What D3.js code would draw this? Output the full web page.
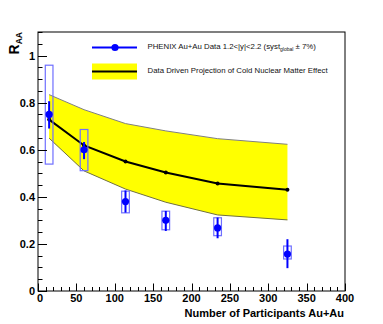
<!DOCTYPE html>
<html><head><meta charset="utf-8">
<script src="https://cdn.jsdelivr.net/npm/d3@7"></script>
<style>body{margin:0;background:#fff}svg{display:block}text{font-family:"Liberation Sans",Arial,sans-serif}</style>
</head><body><svg id="c" width="383" height="324"></svg>
<script>
// Data (Npart, RAA)
const npart = [14.5, 60, 114, 166.5, 234, 325];
const raa = [0.75, 0.60, 0.38, 0.30, 0.268, 0.157];
const statHi = [0.806, 0.633, 0.427, 0.340, 0.312, 0.220];
const statLo = [0.690, 0.560, 0.333, 0.255, 0.224, 0.097];
const systHi = [0.959, 0.686, 0.424, 0.339, 0.311, 0.191];
const systLo = [0.539, 0.511, 0.332, 0.260, 0.235, 0.136];
// Cold nuclear matter projection
const cnmCenter = [0.728, 0.618, 0.550, 0.503, 0.457, 0.430];
const cnmUpper = [0.834, 0.770, 0.711, 0.680, 0.647, 0.623];
const cnmLower = [0.649, 0.510, 0.433, 0.377, 0.323, 0.302];
const xTicks = [0, 50, 100, 150, 200, 250, 300, 350, 400];
const yTicks = [0, 0.2, 0.4, 0.6, 0.8, 1];
const yTickLabels = ["0", "0.2", "0.4", "0.6", "0.8", "1"];
const legendLabels = ["PHENIX Au+Au Data 1.2<|y|<2.2 (syst", "global", " \u00b1 7%)", "Data Driven Projection of Cold Nuclear Matter Effect"];
const xTitle = "Number of Participants Au+Au";

const L = 38, R = 345, T = 32, B = 291;
const svg = d3.select("#c");
const x = d3.scaleLinear().domain([0, 400]).range([L, R]);
const y = d3.scaleLinear().domain([0, 1.1]).range([B, T]);

// band
const bandPts = npart.map((d, i) => ({x: d, hi: cnmUpper[i], lo: cnmLower[i], c: cnmCenter[i]}));
svg.append("path").datum(bandPts)
  .attr("d", d3.area().x(d => x(d.x)).y0(d => y(d.lo)).y1(d => y(d.hi)))
  .attr("fill", "#ffff00");
svg.append("path").datum(bandPts).attr("d", d3.line().x(d => x(d.x)).y(d => y(d.hi)))
  .attr("fill", "none").attr("stroke", "#808080").attr("stroke-width", 1);
svg.append("path").datum(bandPts).attr("d", d3.line().x(d => x(d.x)).y(d => y(d.lo)))
  .attr("fill", "none").attr("stroke", "#707040").attr("stroke-width", 1);
svg.append("path").datum(bandPts).attr("d", d3.line().x(d => x(d.x)).y(d => y(d.c)))
  .attr("fill", "none").attr("stroke", "#000").attr("stroke-width", 2);
svg.selectAll(".cdot").data(bandPts).join("circle")
  .attr("cx", d => x(d.x)).attr("cy", d => y(d.c)).attr("r", 2).attr("fill", "#000");

// data
const pts = npart.map((d, i) => ({x: d, y: raa[i], sh: statHi[i], sl: statLo[i], yh: systHi[i], yl: systLo[i]}));
svg.selectAll(".sys").data(pts).join("rect")
  .attr("x", d => x(d.x - 5)).attr("width", d => x(d.x + 5) - x(d.x - 5))
  .attr("y", d => y(d.yh)).attr("height", d => y(d.yl) - y(d.yh))
  .attr("fill", "none").attr("stroke", "#6f6fff").attr("stroke-width", 1.2);
svg.selectAll(".err").data(pts).join("line")
  .attr("x1", d => x(d.x)).attr("x2", d => x(d.x))
  .attr("y1", d => y(d.sh)).attr("y2", d => y(d.sl))
  .attr("stroke", "#0000ff").attr("stroke-width", 2);
svg.selectAll(".pt").data(pts).join("circle")
  .attr("cx", d => x(d.x)).attr("cy", d => y(d.y)).attr("r", 3.6).attr("fill", "#0000ff");

// frame
svg.append("rect").attr("x", L).attr("y", T).attr("width", R - L).attr("height", B - T)
  .attr("fill", "none").attr("stroke", "#000").attr("stroke-width", 1);

// y axis ticks
const yMinor = d3.range(0, 1.1001, 0.05);
svg.selectAll(".ymin").data(yMinor).join("line")
  .attr("x1", L).attr("x2", L + 4.5).attr("y1", d => Math.round(y(d)) + 0.5).attr("y2", d => Math.round(y(d)) + 0.5)
  .attr("stroke", "#000");
svg.selectAll(".ymaj").data(yTicks).join("line")
  .attr("x1", L).attr("x2", L + 9).attr("y1", d => Math.round(y(d)) + 0.5).attr("y2", d => Math.round(y(d)) + 0.5)
  .attr("stroke", "#000");
svg.selectAll(".ylab").data(yTicks).join("text")
  .attr("x", 35).attr("y", d => y(d) + 4).attr("text-anchor", "end")
  .attr("font-size", 11).attr("font-weight", "bold").text((d, i) => yTickLabels[i]);

// x axis ticks
const xMinor = d3.range(0, 401, 10);
svg.selectAll(".xmin").data(xMinor).join("line")
  .attr("x1", d => Math.round(x(d)) + 0.5).attr("x2", d => Math.round(x(d)) + 0.5).attr("y1", B).attr("y2", B - 4)
  .attr("stroke", "#000");
svg.selectAll(".xmaj").data(xTicks).join("line")
  .attr("x1", d => Math.round(x(d)) + 0.5).attr("x2", d => Math.round(x(d)) + 0.5).attr("y1", B).attr("y2", B - 7.5)
  .attr("stroke", "#000");
svg.selectAll(".xlab").data(xTicks).join("text")
  .attr("x", d => x(d) + (d === 0 ? 2 : 0)).attr("y", 302).attr("text-anchor", "middle")
  .attr("font-size", 11).attr("font-weight", "bold").text(d => d);

// titles
svg.append("text").attr("x", 344).attr("y", 317).attr("text-anchor", "end")
  .attr("font-size", 11).attr("font-weight", "bold").text(xTitle);
const yt = svg.append("text").attr("transform", "translate(19,32) rotate(-90)").attr("text-anchor", "end")
  .attr("font-size", 14).attr("font-weight", "bold");
yt.append("tspan").text("R");
yt.append("tspan").attr("font-size", 8.5).attr("dy", 3).text("AA");

// legend
const lg = svg.append("g");
lg.append("line").attr("x1", 92).attr("x2", 137).attr("y1", 47.5).attr("y2", 47.5).attr("stroke", "#0000ff").attr("stroke-width", 2);
lg.append("circle").attr("cx", 115).attr("cy", 47.5).attr("r", 3.6).attr("fill", "#0000ff");
lg.append("rect").attr("x", 92).attr("y", 63.5).attr("width", 45).attr("height", 16).attr("fill", "#ffff00");
lg.append("line").attr("x1", 92).attr("x2", 137).attr("y1", 71.5).attr("y2", 71.5).attr("stroke", "#000").attr("stroke-width", 2);
const t1 = lg.append("text").attr("x", 147.5).attr("y", 49).attr("font-size", 7.8).attr("fill", "#111");
t1.append("tspan").text(legendLabels[0]);
t1.append("tspan").attr("font-size", 5).attr("dy", 2).text(legendLabels[1]);
t1.append("tspan").attr("dy", -2).text(legendLabels[2]);
lg.append("text").attr("x", 147.5).attr("y", 73).attr("font-size", 7.8).attr("fill", "#111").text(legendLabels[3]);
</script></body></html>
